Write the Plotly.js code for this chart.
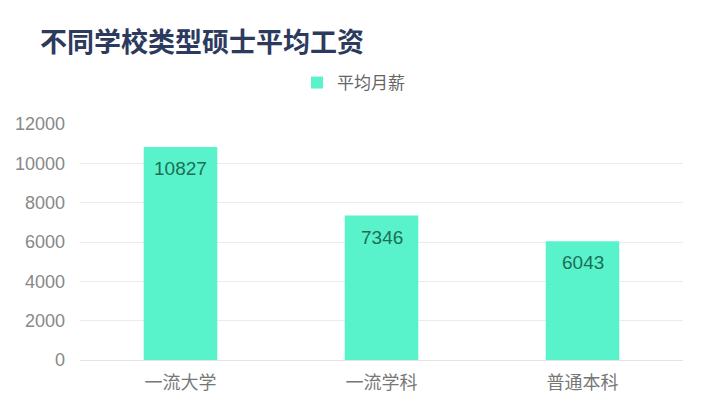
<!DOCTYPE html>
<html><head><meta charset="utf-8">
<script src="https://cdn.plot.ly/plotly-3.0.1.min.js"></script>
<style>html,body{margin:0;padding:0;background:#fff;}#chart{width:717px;height:412px;}</style>
</head><body><div id="chart"></div>
<script>
var categories = ['一流大学', '一流学科', '普通本科'];
var salaries = [10827, 7346, 6043];
var seriesName = '平均月薪';
var yTicks = [0, 2000, 4000, 6000, 8000, 10000, 12000];

var FONT = '"Noto Sans CJK SC", "Noto Sans", sans-serif';
var NUMFONT = '"Liberation Sans", Arial, "Noto Sans CJK SC", sans-serif';

var trace = {
  type: 'bar', x: categories, y: salaries, name: seriesName,
  marker: {color: '#58f3cb'}, width: 0.366, hoverinfo: 'none'
};

var ann = categories.map(function(c, i){
  return {x: c, y: salaries[i], xref: 'x', yref: 'y', text: String(salaries[i]),
    showarrow: false, yanchor: 'top', yshift: -9,
    font: {family: NUMFONT, size: 19, color: '#1d6e56'}};
});

var layout = {
  width: 717, height: 412,
  margin: {l: 80, r: 34, t: 124, b: 52},
  paper_bgcolor: '#ffffff', plot_bgcolor: '#ffffff',
  font: {family: FONT, color: '#888888'},
  title: {text: '<b>不同学校类型硕士平均工资</b>', xref: 'container', yref: 'container',
    x: 40/717, xanchor: 'left', y: 1 - 43/412, yanchor: 'middle',
    font: {family: FONT, size: 27, color: '#2c3a5e'}},
  showlegend: true,
  legend: {orientation: 'h', xref: 'container', yref: 'container', x: 297/717, xanchor: 'left',
    y: 1 - 83/412, yanchor: 'middle', font: {family: FONT, size: 17, color: '#666666'}},
  xaxis: {tickfont: {family: FONT, size: 18, color: '#777777'}, showgrid: false, showline: false,
    ticks: '', ticklabelstandoff: 10, fixedrange: true},
  yaxis: {range: [0, 12000], tickvals: yTicks, ticktext: yTicks.map(String),
    tickfont: {family: NUMFONT, size: 18, color: '#888888'}, gridcolor: '#ebebeb', gridwidth: 1,
    zeroline: true, zerolinecolor: '#e3e3e3', zerolinewidth: 1, showline: false, ticks: '',
    ticklabelstandoff: 14, fixedrange: true},
  annotations: ann
};

Plotly.newPlot('chart', [trace], layout, {displayModeBar: false, staticPlot: true});
</script></body></html>
